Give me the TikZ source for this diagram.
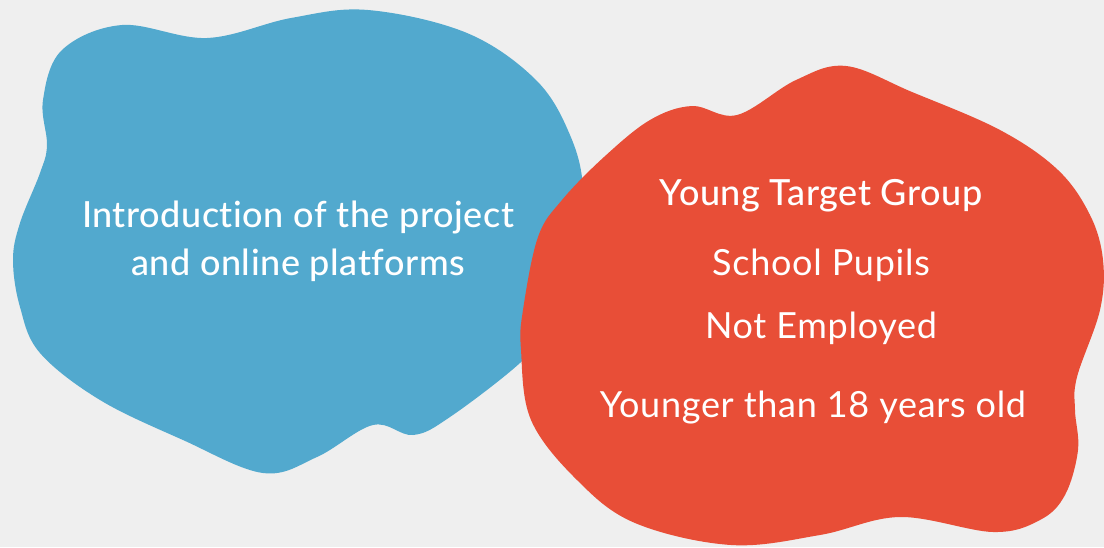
\documentclass[tikz,border=0pt]{standalone}
\usepackage{fontspec}
\setmainfont{Lato}[Ligatures = NoCommon, LetterSpace = 2]
\newfontfamily\medfont{Lato Medium}[Ligatures = NoCommon, LetterSpace = 1.5]

\definecolor{paper}{HTML}{EFEFEF}
\definecolor{blobblue}{HTML}{52A9CE}
\definecolor{blobred}{HTML}{E84E37}

\begin{document}
\begin{tikzpicture}[x = 1pt, y = -1pt, font = \fontsize{36}{42}\selectfont,
	blob/.style = {draw = none, smooth cycle, tension = 0.6},
	line/.style = {anchor = base, text = white, inner sep = 0pt},
	head/.style = {line, font = \fontsize{36}{42}\medfont}]

	% Definitions

	\def\bw{1104}		% Canvas size
	\def\bh{547}

	% Background

	\fill [paper] (0, 0) rectangle (\bw, \bh);
	\useasboundingbox (0, 0) rectangle (\bw, \bh);

	% Draw blobs

	\fill [blobblue] plot [blob] coordinates {
		(122, 25) (207, 38) (291, 18) (368, 10) (467, 33) (536, 80) (570, 135)
		(583, 190) (575, 260) (545, 330) (520, 363) (450, 417) (413, 435)
		(373, 425) (317, 457) (263, 473) (183, 440) (100, 400) (40, 353)
		(20, 307) (13, 260) (20, 223) (40, 173) (47, 145) (43, 100) (62, 50)};

	\fill [blobred] plot [blob] coordinates {
		(562, 200) (604, 157) (650, 120) (692, 106) (737, 115) (796, 80)
		(846, 66) (912, 92) (1000, 130) (1058, 170) (1090, 215) (1103, 260)
		(1100, 310) (1077, 377) (1075, 410) (1078, 450) (1065, 495) (1040, 520)
		(993, 532) (900, 517) (820, 535) (731, 545) (635, 523) (577, 480)
		(531, 420) (521, 350) (523, 310) (538, 237)};

	% Labels

	\node [head] (intro) at (298, 227) {Introduction of the project};
	\node [head] (platforms) at (298, 275) {and online platforms};

	\node [head] (group) at (821, 205) {Young Target Group};
	\node [line] (pupils) at (821, 275) {School Pupils};
	\node [line] (employed) at (821, 338) {Not Employed};
	\node [line] (age) at (813, 417) {Younger than 18 years old};

\end{tikzpicture}
\end{document}
